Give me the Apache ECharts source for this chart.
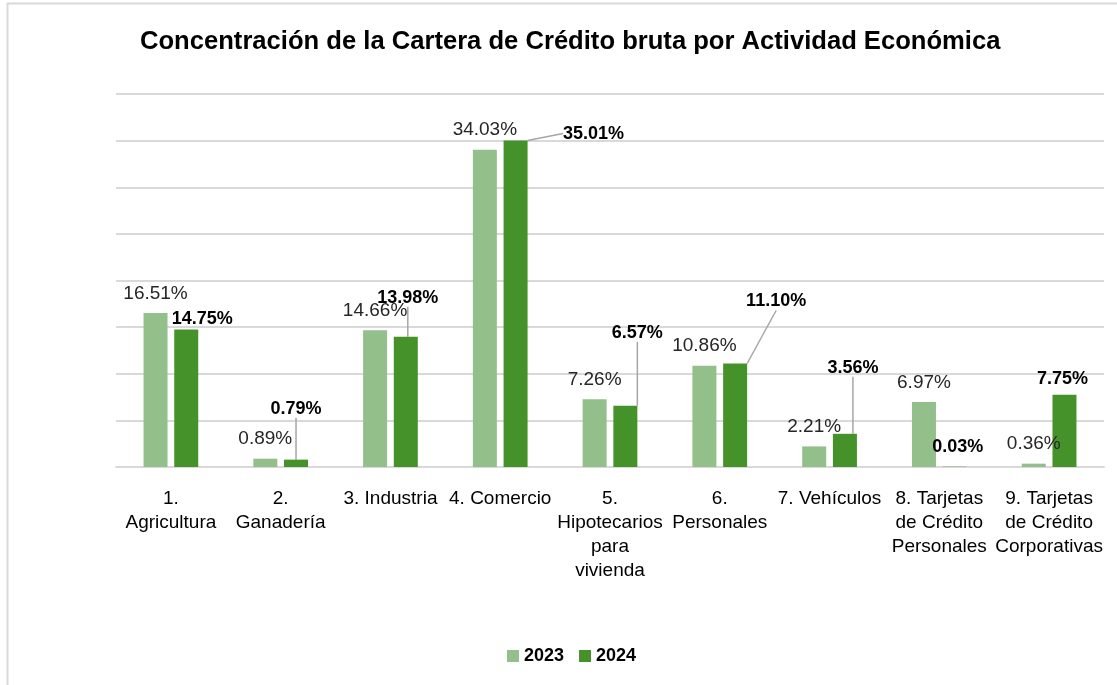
<!DOCTYPE html>
<html>
<head>
<meta charset="utf-8">
<script src="https://cdn.jsdelivr.net/npm/echarts@6/dist/echarts.min.js"></script>
<style>
html, body { margin: 0; padding: 0; background: #fff; }
#chart { width: 1117px; height: 685px; }
</style>
</head>
<body>
<div id="chart"></div>
<script>
// datos
var categories = ['1.\nAgricultura', '2.\nGanadería', '3. Industria', '4. Comercio',
  '5.\nHipotecarios\npara\nvivienda', '6.\nPersonales', '7. Vehículos',
  '8. Tarjetas\nde Crédito\nPersonales', '9. Tarjetas\nde Crédito\nCorporativas'];
var values2023 = [16.51, 0.89, 14.66, 34.03, 7.26, 10.86, 2.21, 6.97, 0.36];
var values2024 = [14.75, 0.79, 13.98, 35.01, 6.57, 11.10, 3.56, 0.03, 7.75];
var seriesNames = ['2023', '2024'];

var colorLight = '#93c08a';
var colorDark = '#46922a';
var gridColor = '#d9d9d9';
var font = '"Liberation Sans", Arial, sans-serif';

// desplazamiento de etiquetas 2024 (dx, dy) y cuales llevan linea guia
var offsets2024 = [[16, 5], [0, -36], [2, -24], [78, 8], [12, -58], [41, -47], [8, -51], [3, -5], [-2, -1]];
var withLine = [false, true, true, true, true, true, true, false, false];

var myChart = echarts.init(document.getElementById('chart'));

myChart.setOption({
  animation: false,
  textStyle: { fontFamily: font },
  title: {
    text: 'Concentración de la Cartera de Crédito bruta por Actividad Económica',
    left: 135,
    top: 24,
    textStyle: { fontSize: 25.6, fontWeight: 'bold', color: '#000', fontFamily: font }
  },
  graphic: [{
    type: 'rect',
    shape: { x: 7.5, y: 3.5, width: 1300, height: 900 },
    style: { fill: 'none', stroke: gridColor, lineWidth: 2 },
    silent: true
  }],
  legend: {
    bottom: 15,
    left: 502,
    itemWidth: 12,
    itemHeight: 12,
    itemGap: 15,
    icon: 'rect',
    textStyle: { fontSize: 18, fontWeight: 'bold', color: '#000', fontFamily: font },
    data: seriesNames
  },
  grid: { left: 116, right: 13, top: 94, bottom: 218 },
  xAxis: {
    type: 'category',
    data: categories,
    axisTick: { show: false },
    axisLine: { lineStyle: { color: gridColor, width: 2 } },
    axisLabel: {
      interval: 0,
      margin: 20,
      fontSize: 19,
      lineHeight: 24,
      color: '#000',
      fontFamily: font
    }
  },
  yAxis: {
    type: 'value',
    min: 0,
    max: 40,
    interval: 5,
    axisLabel: { show: false },
    axisLine: { show: false },
    axisTick: { show: false },
    splitLine: { lineStyle: { color: gridColor, width: 2 } }
  },
  series: [
    {
      name: seriesNames[0],
      type: 'bar',
      data: values2023,
      barWidth: 24,
      barGap: '28%',
      itemStyle: { color: colorLight },
      label: {
        show: true,
        position: 'top',
        distance: 10,
        fontSize: 19,
        color: '#262626',
        fontFamily: font,
        formatter: function (p) { return p.value.toFixed(2) + '%'; }
      }
    },
    {
      name: seriesNames[1],
      type: 'bar',
      data: values2024.map(function (v, i) {
        return { value: v, labelLine: { show: withLine[i] } };
      }),
      barWidth: 24,
      itemStyle: { color: colorDark },
      label: {
        show: true,
        position: 'top',
        distance: 6,
        fontSize: 18,
        fontWeight: 'bold',
        color: '#000',
        fontFamily: font,
        formatter: function (p) { return p.value.toFixed(2) + '%'; }
      },
      labelLine: {
        show: true,
        lineStyle: { color: '#a6a6a6', width: 1.5 }
      },
      labelLayout: function (params) {
        var o = offsets2024[params.dataIndex];
        return { dx: o[0], dy: o[1] };
      }
    }
  ]
});
</script>
</body>
</html>
